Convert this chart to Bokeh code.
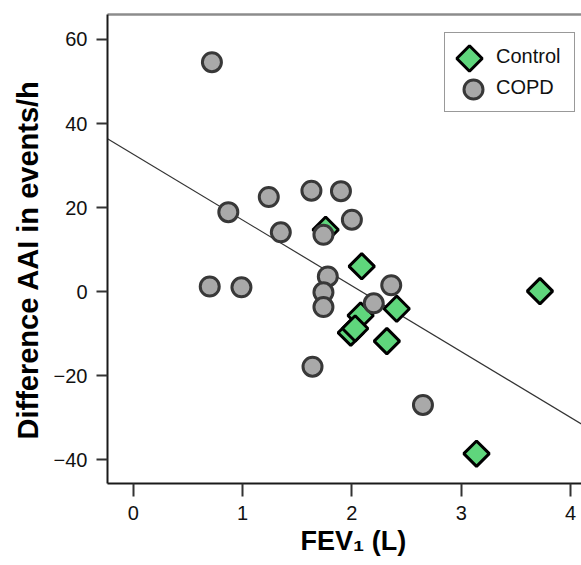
from bokeh.plotting import figure
from bokeh.models import Legend, LegendItem, LinearAxis, FixedTicker, Range1d, Title
from bokeh.embed import file_html
from bokeh.resources import INLINE
import math

# ---- data ----
control_fev1 = [1.76, 2.09, 3.72, 2.41, 2.08, 1.99, 2.03, 2.32, 3.14]
control_diff = [14.7, 6.0, 0.1, -4.1, -5.7, -9.8, -8.8, -11.8, -38.6]

copd_fev1 = [0.72, 0.87, 1.24, 1.35, 1.63, 1.90, 2.00, 1.74, 0.70, 0.99,
             1.78, 1.74, 1.74, 1.64, 2.36, 2.20, 2.65]
copd_diff = [54.6, 18.9, 22.5, 14.1, 24.0, 23.9, 17.1, 13.5, 1.2, 1.0,
             3.6, -0.2, -3.7, -17.9, 1.5, -2.8, -27.0]

series_names = ["Control", "COPD"]
x_ticks = [0, 1, 2, 3, 4]
y_ticks = [-40, -20, 0, 20, 40, 60]
y_tick_labels = {-40: "\u221240", -20: "\u221220", 0: "0", 20: "20", 40: "40", 60: "60"}
x_title = "FEV\u2081 (L)"
y_title = "Difference AAI in events/h"

fit_intercept = 32.7
fit_slope = -15.67

x_lo, x_hi = -0.235, 4.10
y_lo, y_hi = -45.7, 65.95

FONT = "Liberation Sans"
FRAME_W, FRAME_H = 474, 469

p = figure(width=581, height=565, output_backend="svg", toolbar_location=None,
           x_range=Range1d(x_lo, x_hi), y_range=Range1d(y_lo, y_hi),
           min_border_left=107, min_border_right=0, min_border_top=14,
           min_border_bottom=82, background_fill_color="white",
           border_fill_color="white")
p.outline_line_color = None
p.grid.visible = False
p.extra_x_ranges = {"px": Range1d(0, FRAME_W)}
p.extra_y_ranges = {"py": Range1d(0, FRAME_H)}

# regression line
fit_x = [x_lo, x_hi]
fit_y = [fit_intercept + fit_slope * v for v in fit_x]
p.line(fit_x, fit_y, line_color="#333333", line_width=1.2)

ctrl_style = dict(marker="square", angle=math.pi / 4, fill_color="#5fd67c",
                  line_color="#000000", line_width=3)
copd_style = dict(marker="circle", fill_color="#a9a9a9",
                  line_color="#383838", line_width=3)

r_ctrl = p.scatter(control_fev1, control_diff, size=18, **ctrl_style)
r_copd = p.scatter(copd_fev1, copd_diff, size=19, **copd_style)

# axes styling
for ax in (p.xaxis[0], p.yaxis[0]):
    ax.axis_line_color = "#1a1a1a"
    ax.axis_line_width = 2
    ax.major_tick_line_color = "#333333"
    ax.major_tick_line_width = 2
    ax.major_tick_in = 0
    ax.minor_tick_line_color = None
    ax.major_label_text_font = FONT
    ax.major_label_text_font_size = "20px"
    ax.major_label_text_color = "#111111"

p.xaxis[0].ticker = FixedTicker(ticks=x_ticks)
p.xaxis[0].major_tick_out = 13
p.xaxis[0].major_label_standoff = 9

p.yaxis[0].ticker = FixedTicker(ticks=y_ticks)
p.yaxis[0].major_label_overrides = y_tick_labels
p.yaxis[0].major_tick_out = 11
p.yaxis[0].major_label_standoff = 9

# axis titles
p.add_layout(Title(text=x_title, text_font=FONT, text_font_style="bold",
                   text_font_size="27px", text_color="#000000",
                   align="left", offset=193, standoff=2), "below")
p.add_layout(Title(text=y_title, text_font=FONT, text_font_style="bold",
                   text_font_size="29px", text_color="#000000",
                   align="left", offset=44, standoff=13), "left")

# top border line
top = LinearAxis(ticker=FixedTicker(ticks=x_ticks), axis_line_color="#8c8c8c",
                 axis_line_width=2.5, major_tick_out=0, major_tick_in=0,
                 minor_tick_out=0, minor_tick_in=0, major_label_standoff=0,
                 major_label_text_font_size="1px",
                 major_label_text_color=None)
p.add_layout(top, "above")

# legend: box + labels from Legend, markers drawn in frame pixel space
d_ctrl = p.scatter([], [], size=1, fill_alpha=0, line_alpha=0)
d_copd = p.scatter([], [], size=1, fill_alpha=0, line_alpha=0)
legend = Legend(items=[LegendItem(label=series_names[0], renderers=[d_ctrl]),
                       LegendItem(label=series_names[1], renderers=[d_copd])],
                location=(337, 371), glyph_width=36, glyph_height=31,
                label_height=31, spacing=0, padding=8, label_standoff=7,
                label_width=70, label_text_font=FONT, label_text_font_size="20px",
                label_text_color="#111111", label_text_baseline="middle",
                border_line_color="#333333", border_line_width=1.5,
                background_fill_color="white", background_fill_alpha=0)
p.add_layout(legend, "center")

leg_ctrl = p.scatter([362], [425], size=18, x_range_name="px",
                     y_range_name="py", level="overlay", **ctrl_style)
leg_copd = p.scatter([366], [394], size=19, x_range_name="px",
                     y_range_name="py", level="overlay", **copd_style)

open("out.html", "w").write(file_html(p, INLINE))
